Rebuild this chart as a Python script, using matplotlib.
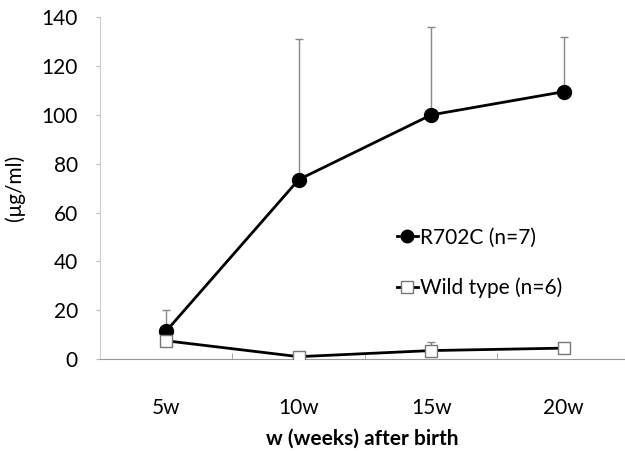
import numpy as np
import matplotlib.pyplot as plt

weeks = ['5w', '10w', '15w', '20w']
r702c = [11.5, 73.5, 100, 109.5]
r702c_err = [8.5, 57.5, 36, 22.5]
wild = [7.5, 1.0, 3.5, 4.5]
wild_err = [0, 0, 3.5, 0]

plt.rcParams['font.family'] = ['Lato', 'DejaVu Sans']

fig = plt.figure(figsize=(6.25, 4.54), dpi=100)
ax = fig.add_axes([0.16, 0.209, 0.84, 0.753])

x = np.arange(len(weeks))

# error bars, upper side only
ax.errorbar(x, r702c, yerr=[np.zeros(4), r702c_err], fmt='none',
            ecolor='#888888', elinewidth=1, capsize=3, capthick=1, zorder=1)
ax.errorbar(x, wild, yerr=[np.zeros(4), wild_err], fmt='none',
            ecolor='#888888', elinewidth=1, capsize=3, capthick=1, zorder=1)

ax.plot(x, r702c, '-o', color='black', lw=2, ms=10, mfc='black', mec='black',
        label='R702C (n=7)', zorder=3)
ax.plot(x, wild, '-s', color='black', lw=2, ms=9, mfc='white', mec='#777777',
        label='Wild type (n=6)', zorder=3)

ax.set_xlim(-0.5, 3.464)
ax.set_ylim(0, 140)
ax.set_yticks(np.arange(0, 141, 20))
ax.set_xticks(x)
ax.set_xticklabels(weeks)
ax.set_xticks(np.arange(-0.5, 3.5, 1), minor=True)
ax.tick_params(axis='x', which='major', length=0, pad=28, labelsize=15)
ax.tick_params(axis='x', which='minor', length=4, direction='in', color='#999999')
ax.tick_params(axis='y', length=3, color='#bbbbbb', pad=13, labelsize=15)

for s in ['top', 'right']:
    ax.spines[s].set_visible(False)
ax.spines['left'].set_color('#cccccc')
ax.spines['left'].set_linestyle((0, (2, 1)))
ax.spines['bottom'].set_color('#999999')
ax.spines['bottom'].set_linewidth(0.8)

ax.set_ylabel('(μg/ml)', fontsize=15, labelpad=12)
ax.set_xlabel('w (weeks) after birth', fontsize=15, fontweight='bold', labelpad=8)

ax.legend(loc='upper left', bbox_to_anchor=(0.53, 0.44), frameon=False,
          fontsize=15, handlelength=1.0, handletextpad=0.1, labelspacing=1.45,
          markerscale=0.9)

fig.savefig('out.png', dpi=100)
